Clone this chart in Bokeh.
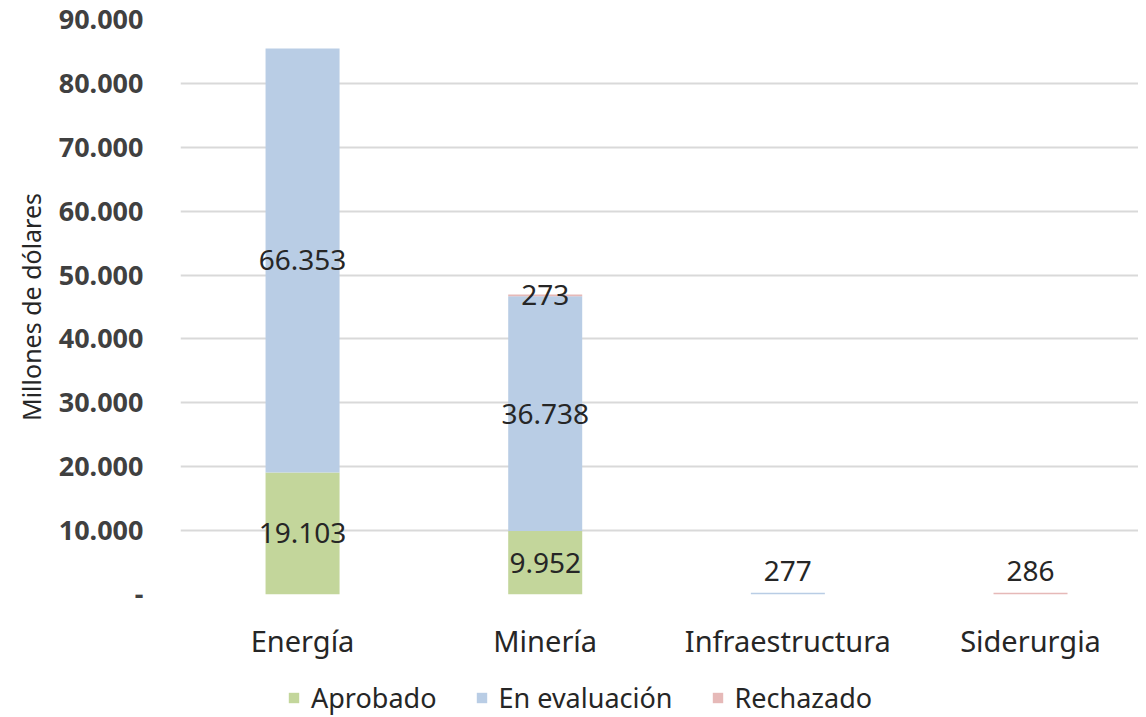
from bokeh.plotting import figure
from bokeh.models import ColumnDataSource, Range1d, Legend, LegendItem, FixedTicker
from bokeh.layouts import column
from bokeh.embed import file_html
from bokeh.resources import INLINE
from bokeh.core.properties import value

categories = ["Energía", "Minería", "Infraestructura", "Siderurgia"]
aprobado = [19103, 9952, 0, 0]
en_evaluacion = [66353, 36738, 277, 0]
rechazado = [0, 273, 0, 286]
series_names = ["Aprobado", "En evaluación", "Rechazado"]
colors = ["#C3D69B", "#B9CDE5", "#E6B9B8"]
y_ticks = [0, 10000, 20000, 30000, 40000, 50000, 60000, 70000, 80000, 90000]
y_tick_labels = ["-", "10.000", "20.000", "30.000", "40.000", "50.000",
                 "60.000", "70.000", "80.000", "90.000"]

FONT = "Noto Sans"
TXT = "#262626"

p = figure(width=1138, height=662, output_backend="svg", toolbar_location=None,
           x_range=Range1d(-0.503, 3.445), y_range=Range1d(0, 90000),
           min_border_left=180, min_border_right=0, min_border_top=19,
           min_border_bottom=65)
p.outline_line_color = None
p.background_fill_color = "white"

xs = list(range(len(categories)))
series = [aprobado, en_evaluacion, rechazado]
bottom = [0] * len(categories)
label_x, label_y, label_t, label_off = [], [], [], []
totals = [sum(s[i] for s in series) for i in xs]
for name, vals, col in zip(series_names, series, colors):
    top = [b + v for b, v in zip(bottom, vals)]
    src = ColumnDataSource(dict(x=xs, bottom=bottom, top=top))
    p.vbar(x="x", bottom="bottom", top="top", width=0.305, source=src,
           fill_color=col, line_color=None)
    for i, v in enumerate(vals):
        if v > 0:
            label_x.append(i)
            label_y.append(bottom[i] + v / 2)
            label_t.append(f"{v:,}".replace(",", "."))
            label_off.append(-23 if totals[i] < 1000 else 0)
    bottom = top

lsrc = ColumnDataSource(dict(x=label_x, y=label_y, t=label_t, off=label_off))
p.text(x="x", y="y", text="t", y_offset="off", source=lsrc, text_align="center",
       text_baseline="middle", text_font=value(FONT), text_font_size="28px",
       text_color=TXT)

# axes
p.xaxis.ticker = FixedTicker(ticks=xs)
p.xaxis.major_label_overrides = {i: c for i, c in enumerate(categories)}
p.xaxis.major_label_text_font = FONT
p.xaxis.major_label_text_font_size = "29px"
p.xaxis.major_label_text_color = TXT
p.xaxis.major_label_standoff = 20
p.xaxis.axis_line_color = None
p.xaxis.major_tick_line_color = None
p.xaxis.minor_tick_line_color = None

p.yaxis.ticker = FixedTicker(ticks=y_ticks)
p.yaxis.major_label_overrides = {t: l for t, l in zip(y_ticks, y_tick_labels)}
p.yaxis.major_label_text_font = FONT
p.yaxis.major_label_text_font_style = "bold"
p.yaxis.major_label_text_font_size = "27px"
p.yaxis.major_label_text_color = "#404040"
p.yaxis.major_label_standoff = 31
p.yaxis.axis_line_color = None
p.yaxis.major_tick_line_color = None
p.yaxis.minor_tick_line_color = None
p.yaxis.axis_label = "Millones de dólares"
p.yaxis.axis_label_text_font = FONT
p.yaxis.axis_label_text_font_style = "normal"
p.yaxis.axis_label_text_font_size = "25px"
p.yaxis.axis_label_text_color = TXT
p.yaxis.axis_label_standoff = 8

p.xgrid.grid_line_color = None
p.ygrid.grid_line_color = "#D9D9D9"
p.ygrid.grid_line_width = 2

# legend strip below the chart (frames of the column are aligned)
leg = figure(width=1138, height=54, output_backend="svg", toolbar_location=None,
             x_range=Range1d(0, 1), y_range=Range1d(0, 1),
             min_border_left=180, min_border_right=0, min_border_top=0,
             min_border_bottom=0)
leg.axis.visible = False
leg.grid.visible = False
leg.outline_line_color = None
items = []
for name, col in zip(series_names, colors):
    r = leg.vbar(x=[-10], top=[-10], width=0.1, fill_color=col, line_color=None)
    items.append(LegendItem(label=name, renderers=[r]))
legend = Legend(items=items, orientation="horizontal", location=(107, 0),
                label_text_font=FONT, label_text_font_size="27px",
                label_text_color=TXT, glyph_width=13, glyph_height=13,
                label_standoff=11, spacing=38, border_line_color=None,
                background_fill_alpha=0, margin=0, padding=2)
leg.add_layout(legend, "center")

open("out.html", "w").write(file_html(column(p, leg), INLINE))
